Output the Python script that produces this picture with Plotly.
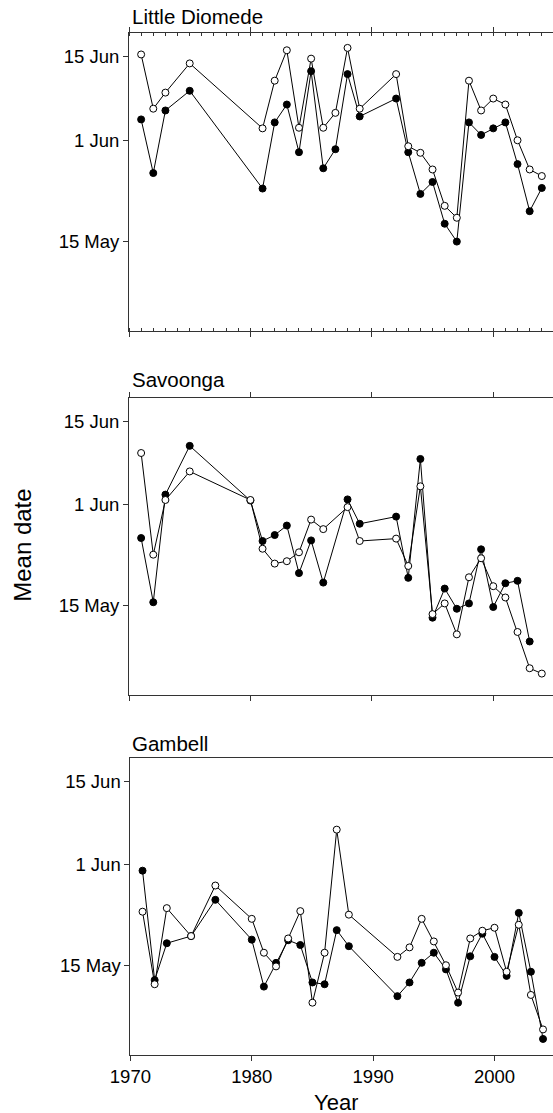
import plotly.graph_objects as go

# ---- data (day of year: 135 = 15 May, 152 = 1 Jun, 166 = 15 Jun) ----
panel_titles = ["Little Diomede", "Savoonga", "Gambell"]
ytick_vals = [135, 152, 166]
ytick_text = ["15 May", "1 Jun", "15 Jun"]
xtick_vals = [1970, 1980, 1990, 2000]
xtick_text = ["1970", "1980", "1990", "2000"]

ld_years = [1971, 1972, 1973, 1975, 1981, 1982, 1983, 1984, 1985, 1986, 1987, 1988, 1989,
            1992, 1993, 1994, 1995, 1996, 1997, 1998, 1999, 2000, 2001, 2002, 2003, 2004]
ld_open = [166.4, 157.3, 160.0, 164.9, 154.0, 162.0, 167.1, 154.1, 165.7, 154.1, 156.6, 167.5, 157.3,
           163.1, 151.0, 149.9, 147.1, 141.0, 139.0, 162.0, 157.0, 159.0, 158.0, 152.0, 147.1, 146.0]
ld_filled = [155.5, 146.5, 157.0, 160.3, 143.9, 155.0, 158.0, 150.0, 163.6, 147.3, 150.5, 163.1, 156.0,
             159.0, 150.0, 143.0, 145.0, 138.0, 135.0, 155.0, 152.9, 154.0, 155.0, 148.0, 140.1, 144.0]

sv_years_open = [1971, 1972, 1973, 1975, 1980, 1981, 1982, 1983, 1984, 1985, 1986, 1988, 1989,
                 1992, 1993, 1994, 1995, 1996, 1997, 1998, 1999, 2000, 2001, 2002, 2003, 2004]
sv_open = [160.7, 143.6, 152.8, 157.6, 152.8, 144.6, 142.1, 142.5, 144.0, 149.5, 147.9, 151.6, 145.9,
           146.3, 141.7, 155.1, 133.6, 135.4, 130.2, 139.8, 143.0, 138.3, 136.4, 130.6, 124.5, 123.6]
sv_years_filled = [1971, 1972, 1973, 1975, 1980, 1981, 1982, 1983, 1984, 1985, 1986, 1988, 1989,
                   1992, 1993, 1994, 1995, 1996, 1997, 1998, 1999, 2000, 2001, 2002, 2003]
sv_filled = [146.4, 135.6, 153.7, 161.9, 152.7, 145.9, 146.9, 148.5, 140.5, 146.0, 138.9, 152.9, 148.8,
             150.0, 139.7, 159.7, 133.0, 137.9, 134.5, 135.4, 144.5, 134.8, 138.8, 139.2, 129.0]

gb_years = [1971, 1972, 1973, 1975, 1977, 1980, 1981, 1982, 1983, 1984, 1985, 1986, 1987, 1988,
            1992, 1993, 1994, 1995, 1996, 1997, 1998, 1999, 2000, 2001, 2002, 2003, 2004]
gb_open = [144.1, 131.9, 144.7, 140.0, 148.5, 142.9, 137.2, 134.9, 139.6, 144.2, 128.8, 137.2, 157.9, 143.6,
           136.5, 138.1, 142.9, 139.1, 135.1, 130.5, 139.6, 140.9, 141.4, 134.0, 141.9, 130.1, 124.3]
gb_filled = [151.0, 132.6, 138.8, 140.0, 146.1, 139.4, 131.5, 135.5, 139.3, 138.5, 132.2, 131.9, 141.0, 138.3,
             129.9, 132.2, 135.5, 137.2, 134.4, 128.8, 136.6, 140.4, 136.5, 133.3, 143.9, 134.0, 122.7]

W, H = 553, 1113
FONT = "Liberation Sans, Arial, Helvetica, sans-serif"
AX = "#333333"

fig = go.Figure()

series = [
    (ld_years, ld_filled, ld_years, ld_open),
    (sv_years_filled, sv_filled, sv_years_open, sv_open),
    (gb_years, gb_filled, gb_years, gb_open),
]
for i, (yf, vf, yo, vo) in enumerate(series):
    suffix = "" if i == 0 else str(i + 1)
    fig.add_trace(go.Scatter(
        x=yf, y=vf, mode="lines+markers", xaxis="x" + suffix, yaxis="y" + suffix,
        line=dict(color="black", width=1),
        marker=dict(symbol="circle", size=7, color="black", line=dict(color="black", width=1)),
        showlegend=False, cliponaxis=False))
    fig.add_trace(go.Scatter(
        x=yo, y=vo, mode="lines+markers", xaxis="x" + suffix, yaxis="y" + suffix,
        line=dict(color="black", width=1),
        marker=dict(symbol="circle", size=7, color="white", line=dict(color="black", width=1)),
        showlegend=False, cliponaxis=False))

def px(p):
    return p / W

def py(p):
    return 1 - p / H

panels = [(33, 331), (397.7, 695), (757.7, 1055)]
left_px = [129, 129, 130.4]
yr_px = [12.17, 12.17, 12.165]

layout = dict(
    width=W, height=H, margin=dict(l=0, r=0, t=0, b=0, pad=0),
    paper_bgcolor="white", plot_bgcolor="white",
    font=dict(family=FONT, size=18, color="black"),
    template="none",
)
for i in range(3):
    suffix = "" if i == 0 else str(i + 1)
    top, bot = panels[i]
    x0 = px(left_px[i])
    xend = 1970 + (W + 1 - left_px[i]) / yr_px[i]
    xa = dict(
        domain=[x0, 1], range=[1970, xend], anchor="y" + suffix, automargin=False,
        showgrid=False, zeroline=False, showline=True, linecolor=AX, linewidth=1,
        ticks="outside", ticklen=5, tickwidth=1, tickcolor=AX,
        tickvals=xtick_vals, ticktext=xtick_text,
        showticklabels=(i == 2),
        tickfont=dict(family=FONT, size=18.5, color="black"),
        mirror=("ticks" if i < 2 else True),
    )
    if i == 0:
        xa["minor"] = dict(dtick=1, tick0=1970, ticks="inside", ticklen=3, tickcolor=AX, tickwidth=1)
    ya = dict(
        domain=[py(bot), py(top)], range=[120, 170], anchor="x" + suffix, automargin=False,
        showgrid=False, zeroline=False, showline=True, linecolor=AX, linewidth=1,
        ticks="outside", ticklen=5, tickwidth=1, tickcolor=AX,
        tickvals=ytick_vals, ticktext=ytick_text,
        tickfont=dict(family=FONT, size=18.5, color="black"),
        mirror=False,
    )
    layout["xaxis" + suffix] = xa
    layout["yaxis" + suffix] = ya

title_y = [16.3, 379.7, 743.8]
annotations = []
for t, yy in zip(panel_titles, title_y):
    annotations.append(dict(text=t, xref="paper", yref="paper", x=px(129.5), y=py(yy),
                            xanchor="left", yanchor="middle", showarrow=False,
                            font=dict(family=FONT, size=20.5, color="black")))
annotations.append(dict(text="Mean date", xref="paper", yref="paper", x=px(23), y=py(545.8),
                        xanchor="center", yanchor="middle", textangle=-90, showarrow=False,
                        font=dict(family=FONT, size=24, color="black")))
annotations.append(dict(text="Year", xref="paper", yref="paper", x=px(335.6), y=py(1101.5),
                        xanchor="center", yanchor="middle", showarrow=False, height=20,
                        valign="middle", font=dict(family=FONT, size=22, color="black")))
layout["annotations"] = annotations

fig.update_layout(**layout)
fig.write_html(
    "out.html",
    config={"displayModeBar": False},
    post_script="document.body.style.margin='0';document.documentElement.style.overflow='hidden';",
)
